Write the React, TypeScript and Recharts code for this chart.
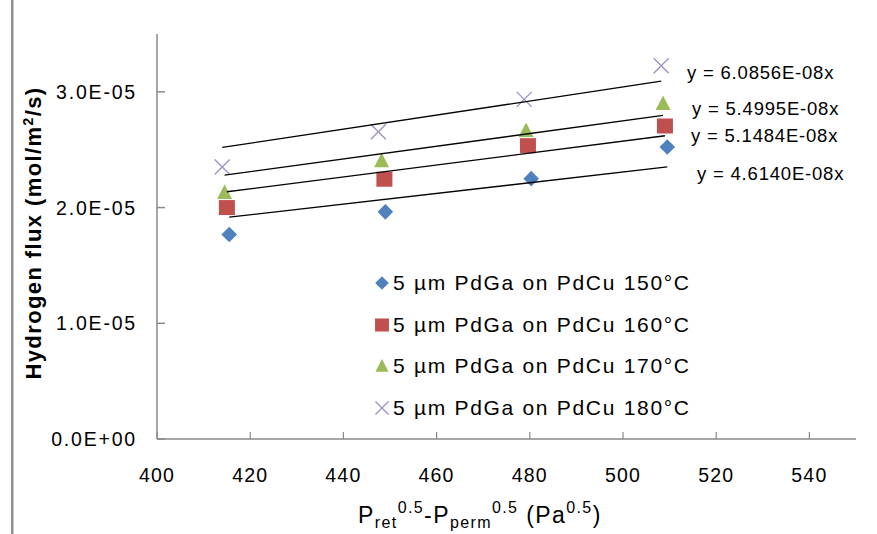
import React from 'react';
import { ScatterChart, Scatter, XAxis, YAxis, Legend } from 'recharts';

const X_TICKS = [400, 420, 440, 460, 480, 500, 520, 540];
const Y_TICKS = [0, 1e-5, 2e-5, 3e-5];

const SERIES_NAMES = [
  '5 µm PdGa on PdCu 150°C',
  '5 µm PdGa on PdCu 160°C',
  '5 µm PdGa on PdCu 170°C',
  '5 µm PdGa on PdCu 180°C',
];

// driving force (Pa^0.5) and measured flux (mol/m2/s) per temperature
const X_150 = [415.5, 449, 480.3, 509.5];
const FLUX_150 = [1.767e-5, 1.963e-5, 2.25e-5, 2.523e-5];
const X_160 = [415, 448.8, 479.6, 509];
const FLUX_160 = [2.0e-5, 2.245e-5, 2.535e-5, 2.705e-5];
const X_170 = [414.5, 448.2, 479.2, 508.6];
const FLUX_170 = [2.13e-5, 2.405e-5, 2.665e-5, 2.9e-5];
const X_180 = [414, 447.5, 478.8, 508.2];
const FLUX_180 = [2.35e-5, 2.655e-5, 2.935e-5, 3.225e-5];

// trendline slopes (forced through zero)
const SLOPES = [4.614e-8, 5.1484e-8, 5.4995e-8, 6.0856e-8];
const EQUATIONS = ['y = 4.6140E-08x', 'y = 5.1484E-08x', 'y = 5.4995E-08x', 'y = 6.0856E-08x'];

const COLORS = ['#4F81BD', '#C0504D', '#9BBB59', '#9F8FC6'];
const AXIS_COLOR = '#8a8a8a';
const FONT = '"Liberation Sans", Arial, sans-serif';

const toPoints = (xs: number[], ys: number[]) => xs.map((x, i) => ({ x, y: ys[i] }));
const toTrend = (xs: number[], k: number) => [
  { x: xs[0], y: k * xs[0] },
  { x: xs[xs.length - 1], y: k * xs[xs.length - 1] },
];

const SERIES = [
  { name: SERIES_NAMES[0], data: toPoints(X_150, FLUX_150), trend: toTrend(X_150, SLOPES[0]) },
  { name: SERIES_NAMES[1], data: toPoints(X_160, FLUX_160), trend: toTrend(X_160, SLOPES[1]) },
  { name: SERIES_NAMES[2], data: toPoints(X_170, FLUX_170), trend: toTrend(X_170, SLOPES[2]) },
  { name: SERIES_NAMES[3], data: toPoints(X_180, FLUX_180), trend: toTrend(X_180, SLOPES[3]) },
];

const fmtY = (v: number) => (v === 0 ? '0.0E+00' : v.toExponential(1).replace('e-', 'E-0'));

function Marker({ kind, cx, cy, s = 1 }: { kind: number; cx: number; cy: number; s?: number }) {
  if (kind === 0) {
    const r = 7.8 * s;
    return <polygon points={`${cx},${cy - r} ${cx + r},${cy} ${cx},${cy + r} ${cx - r},${cy}`} fill={COLORS[0]} />;
  }
  if (kind === 1) {
    return <rect x={cx - 8 * s} y={cy - 7.5 * s} width={16 * s} height={15 * s} fill={COLORS[1]} />;
  }
  if (kind === 2) {
    return (
      <polygon
        points={`${cx},${cy - 8 * s} ${cx + 7.5 * s},${cy + 6.5 * s} ${cx - 7.5 * s},${cy + 6.5 * s}`}
        fill={COLORS[2]}
      />
    );
  }
  const r = 7.5 * s;
  return (
    <g stroke={COLORS[3]} strokeWidth={1.3}>
      <line x1={cx - r} y1={cy - r} x2={cx + r} y2={cy + r} />
      <line x1={cx - r} y1={cy + r} x2={cx + r} y2={cy - r} />
    </g>
  );
}

const XTick = (props: any) => {
  const { x, y, payload } = props;
  return (
    <g>
      <line x1={x} y1={y} x2={x} y2={y - 7} stroke={AXIS_COLOR} strokeWidth={1.2} />
      <text x={x} y={y + 43} textAnchor="middle" fontSize={19.5} letterSpacing={1.2} fill="#000" fontFamily={FONT}>
        {payload.value}
      </text>
    </g>
  );
};

const YTick = (props: any) => {
  const { x, y, payload } = props;
  return (
    <g>
      <line x1={x} y1={y} x2={x + 8} y2={y} stroke={AXIS_COLOR} strokeWidth={1.5} />
      <text x={x - 20} y={y + 7} textAnchor="end" fontSize={19.5} letterSpacing={1.8} fill="#000" fontFamily={FONT}>
        {fmtY(payload.value)}
      </text>
    </g>
  );
};

const LegendBox = () => (
  <div style={{ fontFamily: FONT, fontSize: 21, letterSpacing: 1.7, color: '#000' }}>
    {SERIES_NAMES.map((name, i) => (
      <div key={name} style={{ display: 'flex', alignItems: 'center', height: 41.7 }}>
        <svg width={20} height={20} style={{ marginRight: 1 }}>
          <Marker kind={i} cx={10} cy={10} s={0.87} />
        </svg>
        <span>{name}</span>
      </div>
    ))}
  </div>
);

export default function App() {
  return (
    <div style={{ position: 'absolute', left: 0, top: 0, width: 877, height: 534, background: '#fff' }}>
      <ScatterChart width={877} height={534} margin={{ top: 34, right: 21, bottom: 35, left: 57 }}>
        <XAxis
          type="number"
          dataKey="x"
          domain={[400, 550]}
          ticks={X_TICKS}
          interval={0}
          height={60}
          tickSize={0}
          tickMargin={0}
          tick={<XTick />}
          axisLine={{ stroke: AXIS_COLOR, strokeWidth: 1.5 }}
          allowDataOverflow
        />
        <YAxis
          type="number"
          dataKey="y"
          domain={[0, 3.5e-5]}
          ticks={Y_TICKS}
          interval={0}
          width={100}
          tickSize={0}
          tickMargin={0}
          tick={<YTick />}
          axisLine={{ stroke: AXIS_COLOR, strokeWidth: 1.5 }}
          allowDataOverflow
        />
        <Legend
          layout="vertical"
          align="center"
          verticalAlign="middle"
          content={<LegendBox />}
          wrapperStyle={{ left: 372, top: 262, width: 380 }}
        />
        {SERIES.map((s, i) => (
          <Scatter
            key={s.name}
            name={s.name}
            data={s.data}
            isAnimationActive={false}
            shape={(p: any) => <Marker kind={i} cx={p.cx} cy={p.cy} />}
          />
        ))}
        {SERIES.map((s, i) => (
          <Scatter
            key={`trend-${i}`}
            name={`trend-${i}`}
            data={s.trend}
            legendType="none"
            isAnimationActive={false}
            line={{ stroke: '#000', strokeWidth: 1.3 }}
            shape={() => <g />}
          />
        ))}
      </ScatterChart>
      <svg
        width={877}
        height={534}
        style={{ position: 'absolute', left: 0, top: 0, pointerEvents: 'none' }}
        fontFamily={FONT}
      >
        <rect x={11} y={0} width={2.5} height={534} fill="#8f8f8f" />
        <text fontSize={18.5} letterSpacing={0.8} fill="#000">
          <tspan x={687} y={79}>{EQUATIONS[3]}</tspan>
          <tspan x={692} y={115}>{EQUATIONS[2]}</tspan>
          <tspan x={691} y={142}>{EQUATIONS[1]}</tspan>
          <tspan x={697} y={180}>{EQUATIONS[0]}</tspan>
        </text>
        <text
          transform="translate(41,233) rotate(-90)"
          textAnchor="middle"
          fontSize={22}
          fontWeight="bold"
          letterSpacing={1.4}
          fill="#000"
        >
          Hydrogen flux (mol/m<tspan dy={-8} fontSize={14}>2</tspan>
          <tspan dy={8}>/s)</tspan>
        </text>
        <text x={358} y={523} fontSize={23} letterSpacing={1.4} fill="#000">
          P<tspan dy={5} fontSize={16}>ret</tspan>
          <tspan dy={-15} fontSize={16}>0.5</tspan>
          <tspan dy={10}>-P</tspan>
          <tspan dy={5} fontSize={16}>perm</tspan>
          <tspan dy={-15} fontSize={16}>0.5</tspan>
          <tspan dy={10}> (Pa</tspan>
          <tspan dy={-10} fontSize={16}>0.5</tspan>
          <tspan dy={10}>)</tspan>
        </text>
      </svg>
    </div>
  );
}
